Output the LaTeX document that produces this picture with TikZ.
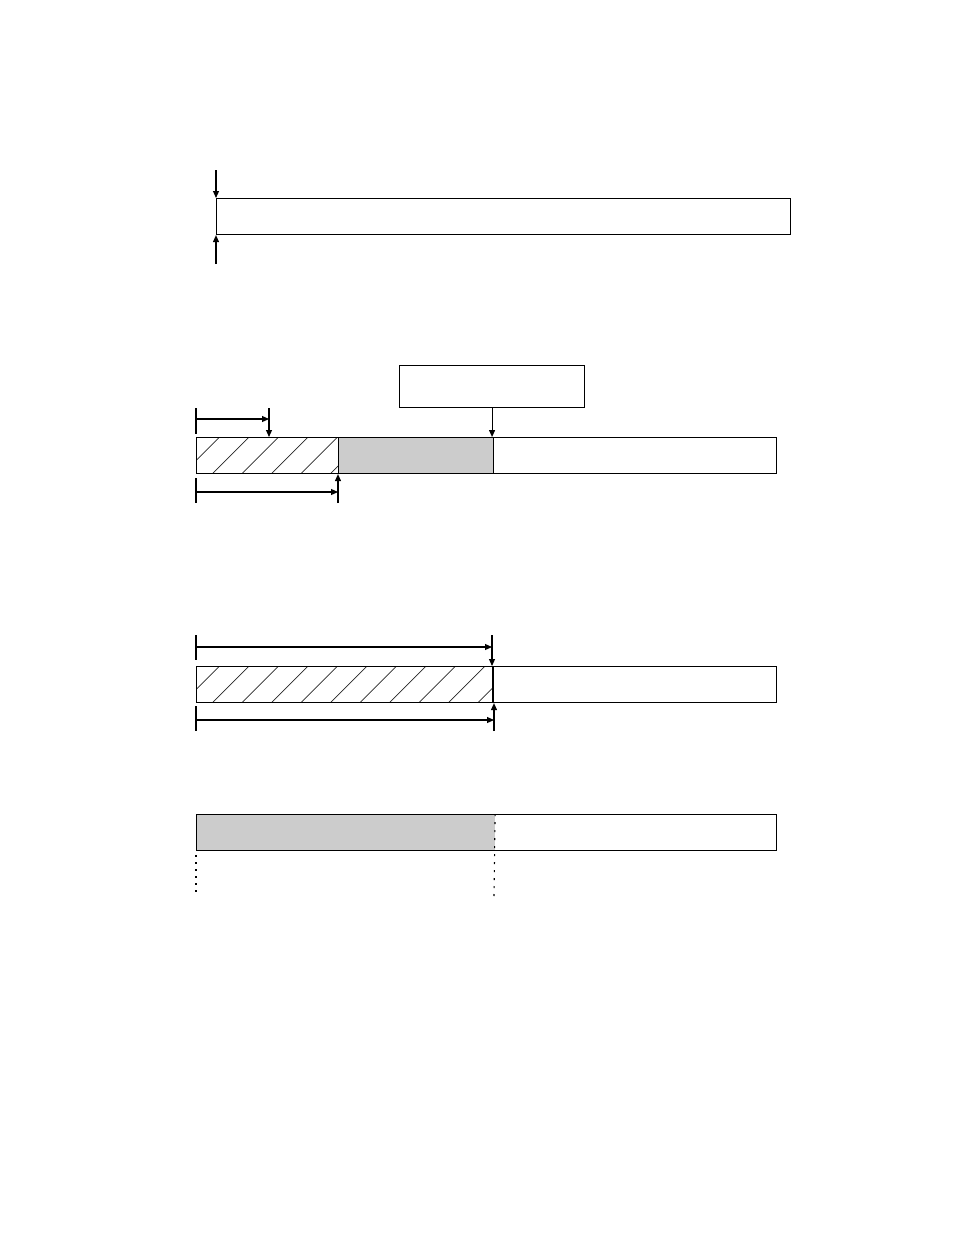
\documentclass[tikz,border=0pt]{standalone}
\usetikzlibrary{arrows.meta}
\begin{document}
\begin{tikzpicture}
    [
      x=1pt,
      y=-1pt,
      line width=1.1pt,
      seg/.style={rectangle,draw=black,inner sep=0pt,minimum height=36pt,anchor=north west},
      graycell/.style={seg,fill=black!20},
      hatchcell/.style={seg,path picture={
          \foreach \k in {-1,...,11}
            \draw[black!85,line width=0.8pt]
              ([xshift={\k*29.5pt+16pt}]path picture bounding box.south west) -- ++(37pt,37pt);}},
      arr/.style={-{Triangle[length=7pt,width=6pt]}},
      dots/.style={line width=1.1pt,dash pattern=on 2pt off 6pt},
      bigdots/.style={line width=1.8pt,dash pattern=on 2pt off 5pt},
    ]
    \useasboundingbox (0,0) rectangle (954,1235);

    % first bar
    \node at (216, 198) [seg, minimum width=574pt] (b1) {};
    \coordinate (b1t) at (216, 170);
    \coordinate (b1b) at (216, 264);
    \draw[arr] (b1t) -- (b1t |- b1.north);
    \draw[arr] (b1b) -- (b1b |- b1.south);

    % second bar
    \node at (399, 365) [rectangle, draw, inner sep=0pt, minimum width=185pt,
                         minimum height=42pt, anchor=north west] (lbl) {};
    \node at (196, 437) [hatchcell, minimum width=142pt] (h2) {};
    \node at (338, 437) [graycell, minimum width=155pt] (g2) {};
    \node at (493, 437) [seg, minimum width=283pt] (w2) {};
    \draw[arr] (lbl.south) -- (lbl.south |- w2.north);

    \coordinate (u2a) at (196, 408);
    \coordinate (u2b) at (196, 434);
    \coordinate (u2c) at (269, 408);
    \coordinate (u2s) at (196, 419);
    \draw (u2a) -- (u2b);
    \draw[arr] (u2c) -- (u2c |- h2.north);
    \draw[arr] (u2s) -- (u2s -| u2c);

    \coordinate (l2a) at (196, 478);
    \coordinate (l2b) at (196, 503);
    \coordinate (l2c) at (338, 503);
    \coordinate (l2s) at (196, 492);
    \draw (l2a) -- (l2b);
    \draw[arr] (l2c) -- (l2c |- h2.south);
    \draw[arr] (l2s) -- (l2s -| l2c);

    % third bar
    \node at (196, 666) [hatchcell, minimum width=297pt] (h3) {};
    \node at (493, 666) [seg, minimum width=283pt] (w3) {};
    \draw[line width=2pt] (w3.north west) -- (w3.south west);

    \coordinate (u3a) at (196, 635);
    \coordinate (u3b) at (196, 660);
    \coordinate (u3c) at (492, 635);
    \coordinate (u3s) at (196, 647);
    \draw (u3a) -- (u3b);
    \draw[arr] (u3c) -- (u3c |- h3.north);
    \draw[arr] (u3s) -- (u3s -| u3c);

    \coordinate (l3a) at (196, 706);
    \coordinate (l3b) at (196, 731);
    \coordinate (l3c) at (494, 731);
    \coordinate (l3s) at (196, 720);
    \draw (l3a) -- (l3b);
    \draw[arr] (l3c) -- (l3c |- h3.south);
    \draw[arr] (l3s) -- (l3s -| l3c);

    % fourth bar
    \node at (196, 814) [seg, draw=none, fill=black!20, minimum width=298pt] (g4) {};
    \node at (196, 814) [seg, minimum width=580pt] (b4) {};
    \coordinate (d4a) at (196, 897);
    \coordinate (d4b) at (494, 897);
    \draw[dots] (g4.north east) -- (d4b);
    \draw[bigdots] ([yshift=-4pt]b4.south west) -- (d4a);
  \end{tikzpicture}
\end{document}
